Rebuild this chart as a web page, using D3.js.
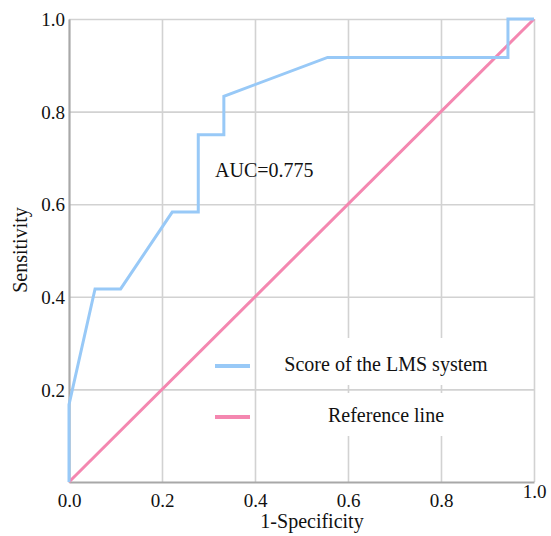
<!DOCTYPE html>
<html>
<head>
<meta charset="utf-8">
<script src="https://cdn.jsdelivr.net/npm/d3@7"></script>
<style>
  body { margin: 0; background: #fff; }
  svg text { font-family: "Liberation Serif", "Times New Roman", serif !important; fill: #111; }
</style>
</head>
<body>
<svg id="chart" width="551" height="536"></svg>
<script>
// ROC curve data (1-Specificity, Sensitivity)
const rocX = [0, 0, 0.056, 0.111, 0.222, 0.278, 0.278, 0.333, 0.333, 0.556, 0.944, 0.944, 1.0];
const rocY = [0, 0.167, 0.417, 0.417, 0.583, 0.583, 0.75, 0.75, 0.833, 0.917, 0.917, 1.0, 1.0];
const refX = [0, 1];
const refY = [0, 1];
const xTicks = [0, 0.2, 0.4, 0.6, 0.8, 1.0];
const yTicks = [0.2, 0.4, 0.6, 0.8, 1.0];
const seriesNames = ["Score of the LMS system", "Reference line"];
const seriesColors = ["#98c9f7", "#f487b0"];
const aucLabel = "AUC=0.775";

const svg = d3.select("#chart");
const L = 69, R = 534, T = 19, B = 482;
const x = d3.scaleLinear().domain([0, 1]).range([L, R]);
const y = d3.scaleLinear().domain([0, 1]).range([B, T]);

// grid
const grid = svg.append("g");
grid.append("g").attr("transform", `translate(0,${B})`)
  .call(d3.axisBottom(x).tickValues(xTicks.slice(1)).tickSize(-(B - T)).tickFormat(""))
  .call(g => g.select(".domain").remove())
  .call(g => g.selectAll("line").attr("stroke", "#d2d2d2").attr("stroke-width", 1.6));
grid.append("g").attr("transform", `translate(${L},0)`)
  .call(d3.axisLeft(y).tickValues(yTicks).tickSize(-(R - L)).tickFormat(""))
  .call(g => g.select(".domain").remove())
  .call(g => g.selectAll("line").attr("stroke", "#d2d2d2").attr("stroke-width", 1.6));

// legend backgrounds
svg.append("rect").attr("x", 262).attr("y", 338).attr("width", 270).attr("height", 47).attr("fill", "#fff");
svg.append("rect").attr("x", 262).attr("y", 393).attr("width", 270).attr("height", 43).attr("fill", "#fff");

// axes
const xAxis = svg.append("g").attr("transform", `translate(0,${B})`)
  .call(d3.axisBottom(x).tickValues(xTicks).tickSize(0).tickFormat(d3.format(".1f")))
  .attr("font-family", null).attr("font-size", null);
xAxis.select(".domain").attr("stroke", "#a8a8a8").attr("stroke-width", 2.2);
xAxis.selectAll("text").attr("y", 0).attr("dy", 0)
  .attr("transform", d => `translate(0,${d === 1 ? 16 : 25})`)
  .style("font-size", "19px").attr("fill", "#111");

const yAxis = svg.append("g").attr("transform", `translate(${L},0)`)
  .call(d3.axisLeft(y).tickValues(yTicks).tickSize(0).tickFormat(d3.format(".1f")))
  .attr("font-family", null).attr("font-size", null);
yAxis.select(".domain").attr("stroke", "#a8a8a8").attr("stroke-width", 2.2);
yAxis.selectAll("text").attr("x", -4).attr("dy", "0.35em")
  .style("font-size", "19px").attr("fill", "#111");

// lines
const line = d3.line().x(d => x(d[0])).y(d => y(d[1]));
svg.append("path").datum(refX.map((v, i) => [v, refY[i]]))
  .attr("d", line).attr("fill", "none").attr("stroke", seriesColors[1]).attr("stroke-width", 3);
svg.append("path").datum(rocX.map((v, i) => [v, rocY[i]]))
  .attr("d", line).attr("fill", "none").attr("stroke", seriesColors[0]).attr("stroke-width", 3)
  .attr("stroke-linejoin", "miter");

// AUC label
svg.append("text").attr("x", 215).attr("y", 177).style("font-size", "20px").text(aucLabel);

// legend
const legY = [366, 417];
const legTextY = [371, 422];
seriesNames.forEach((name, i) => {
  svg.append("line").attr("x1", 215).attr("x2", 250).attr("y1", legY[i]).attr("y2", legY[i])
    .attr("stroke", seriesColors[i]).attr("stroke-width", 4);
  svg.append("text").attr("x", 386).attr("y", legTextY[i]).attr("text-anchor", "middle")
    .style("font-size", "20px").text(name);
});

// axis titles
svg.append("text").attr("x", 312).attr("y", 528).attr("text-anchor", "middle")
  .style("font-size", "20px").text("1-Specificity");
svg.append("text").attr("transform", "translate(27,250) rotate(-90)").attr("text-anchor", "middle")
  .style("font-size", "20px").text("Sensitivity");
</script>
</body>
</html>
